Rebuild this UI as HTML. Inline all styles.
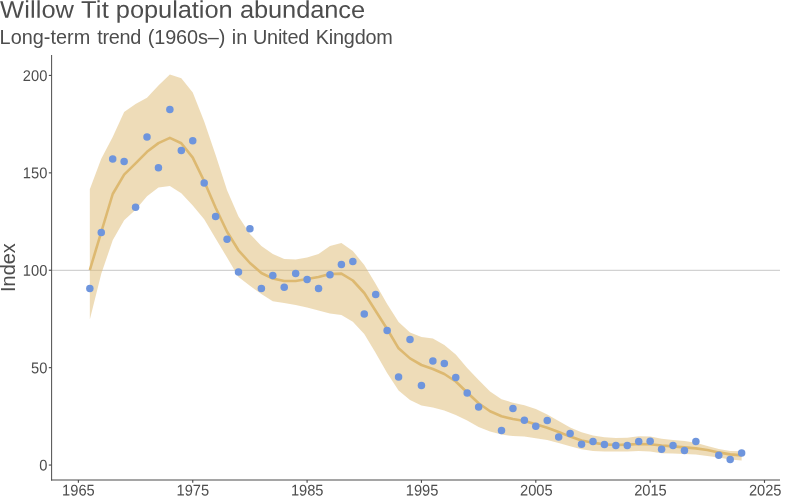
<!DOCTYPE html>
<html lang="en"><head><meta charset="utf-8"><title>Willow Tit population abundance</title>
<style>
html,body{margin:0;padding:0;background:#fff;}
body{width:800px;height:500px;overflow:hidden;}
svg{display:block;font-family:"Liberation Sans",sans-serif;}
</style></head><body>
<svg width="800" height="500" viewBox="0 0 800 500">
<rect width="800" height="500" fill="#fff"/>
<line x1="51.62" y1="270.3" x2="780" y2="270.3" stroke="#a0a0a0" stroke-width="0.6"/>
<polygon points="89.84,189.30 101.27,158.70 112.71,137.00 124.14,111.90 135.58,104.00 147.01,97.75 158.44,85.60 169.88,74.40 181.31,78.20 192.75,92.50 204.19,121.60 215.62,155.00 227.06,190.30 238.49,216.50 249.93,234.00 261.36,246.00 272.80,254.00 284.23,259.00 295.67,259.60 307.10,257.50 318.54,254.00 329.97,246.00 341.40,243.00 352.84,251.00 364.27,265.00 375.71,284.00 387.14,304.00 398.58,322.00 410.01,332.50 421.45,337.00 432.88,338.40 444.32,345.00 455.75,354.40 467.19,368.00 478.62,380.00 490.06,391.40 501.50,399.20 512.93,402.70 524.37,405.20 535.80,409.00 547.24,414.40 558.67,421.00 570.11,427.60 581.54,432.20 592.98,435.40 604.41,437.20 615.85,437.90 627.28,437.70 638.72,436.30 650.15,436.50 661.59,438.80 673.02,440.00 684.46,441.10 695.89,442.80 707.33,446.00 718.76,449.00 730.20,451.00 741.63,451.20 741.63,460.40 730.20,459.40 718.76,457.50 707.33,456.00 695.89,454.40 684.46,454.00 673.02,453.60 661.59,453.30 650.15,451.40 638.72,451.00 627.28,451.40 615.85,451.60 604.41,451.60 592.98,451.00 581.54,449.30 570.11,446.30 558.67,443.00 547.24,440.00 535.80,438.30 524.37,436.60 512.93,436.00 501.50,434.60 490.06,431.60 478.62,427.00 467.19,420.60 455.75,415.00 444.32,410.60 432.88,407.40 421.45,405.60 410.01,400.00 398.58,390.40 387.14,373.00 375.71,353.00 364.27,334.00 352.84,321.80 341.40,315.00 329.97,313.40 318.54,310.60 307.10,307.60 295.67,305.00 284.23,303.00 272.80,301.30 261.36,294.00 249.93,285.80 238.49,277.00 227.06,257.50 215.62,238.50 204.19,219.20 192.75,205.50 181.31,193.20 169.88,186.00 158.44,187.50 147.01,196.25 135.58,209.70 124.14,220.20 112.71,240.30 101.27,273.80 89.84,319.40" fill="#DDB971" fill-opacity="0.5"/>
<polyline points="89.84,270.00 101.27,232.00 112.71,194.00 124.14,174.70 135.58,163.40 147.01,151.80 158.44,143.10 169.88,137.90 181.31,143.20 192.75,157.60 204.19,181.30 215.62,207.80 227.06,231.80 238.49,250.30 249.93,263.00 261.36,273.00 272.80,278.60 284.23,281.00 295.67,281.00 307.10,279.00 318.54,277.00 329.97,274.00 341.40,273.60 352.84,280.50 364.27,293.00 375.71,311.00 387.14,329.00 398.58,348.30 410.01,358.40 421.45,365.00 432.88,369.00 444.32,374.00 455.75,381.50 467.19,392.50 478.62,403.20 490.06,411.30 501.50,416.30 512.93,419.00 524.37,421.00 535.80,424.20 547.24,427.70 558.67,432.00 570.11,436.60 581.54,440.50 592.98,442.70 604.41,444.40 615.85,445.00 627.28,444.60 638.72,444.00 650.15,444.20 661.59,445.50 673.02,446.40 684.46,447.40 695.89,448.40 707.33,450.00 718.76,452.40 730.20,454.40 741.63,455.40" fill="none" stroke="#DDB971" stroke-width="2.6" stroke-linejoin="round" stroke-linecap="butt"/>
<g fill="#6E95DD"><circle cx="89.84" cy="288.40" r="3.75"/><circle cx="101.27" cy="232.50" r="3.75"/><circle cx="112.71" cy="159.00" r="3.75"/><circle cx="124.14" cy="161.40" r="3.75"/><circle cx="135.58" cy="207.30" r="3.75"/><circle cx="147.01" cy="137.00" r="3.75"/><circle cx="158.44" cy="167.80" r="3.75"/><circle cx="169.88" cy="109.40" r="3.75"/><circle cx="181.31" cy="150.40" r="3.75"/><circle cx="192.75" cy="140.70" r="3.75"/><circle cx="204.19" cy="183.00" r="3.75"/><circle cx="215.62" cy="216.50" r="3.75"/><circle cx="227.06" cy="239.20" r="3.75"/><circle cx="238.49" cy="272.00" r="3.75"/><circle cx="249.93" cy="228.80" r="3.75"/><circle cx="261.36" cy="288.40" r="3.75"/><circle cx="272.80" cy="275.40" r="3.75"/><circle cx="284.23" cy="287.20" r="3.75"/><circle cx="295.67" cy="273.40" r="3.75"/><circle cx="307.10" cy="279.60" r="3.75"/><circle cx="318.54" cy="288.40" r="3.75"/><circle cx="329.97" cy="274.80" r="3.75"/><circle cx="341.40" cy="264.40" r="3.75"/><circle cx="352.84" cy="261.60" r="3.75"/><circle cx="364.27" cy="314.00" r="3.75"/><circle cx="375.71" cy="294.40" r="3.75"/><circle cx="387.14" cy="330.50" r="3.75"/><circle cx="398.58" cy="377.00" r="3.75"/><circle cx="410.01" cy="339.60" r="3.75"/><circle cx="421.45" cy="385.40" r="3.75"/><circle cx="432.88" cy="361.00" r="3.75"/><circle cx="444.32" cy="363.60" r="3.75"/><circle cx="455.75" cy="377.50" r="3.75"/><circle cx="467.19" cy="393.00" r="3.75"/><circle cx="478.62" cy="407.00" r="3.75"/><circle cx="501.50" cy="430.40" r="3.75"/><circle cx="512.93" cy="408.40" r="3.75"/><circle cx="524.37" cy="420.20" r="3.75"/><circle cx="535.80" cy="426.20" r="3.75"/><circle cx="547.24" cy="420.60" r="3.75"/><circle cx="558.67" cy="437.00" r="3.75"/><circle cx="570.11" cy="433.60" r="3.75"/><circle cx="581.54" cy="444.20" r="3.75"/><circle cx="592.98" cy="441.40" r="3.75"/><circle cx="604.41" cy="444.40" r="3.75"/><circle cx="615.85" cy="445.40" r="3.75"/><circle cx="627.28" cy="445.40" r="3.75"/><circle cx="638.72" cy="441.40" r="3.75"/><circle cx="650.15" cy="441.20" r="3.75"/><circle cx="661.59" cy="449.20" r="3.75"/><circle cx="673.02" cy="445.50" r="3.75"/><circle cx="684.46" cy="450.40" r="3.75"/><circle cx="695.89" cy="441.40" r="3.75"/><circle cx="718.76" cy="455.20" r="3.75"/><circle cx="730.20" cy="459.40" r="3.75"/><circle cx="741.63" cy="453.00" r="3.75"/></g>
<g stroke="#4d4d4d" stroke-width="1.1" fill="none">
<line x1="51.62" y1="55" x2="51.62" y2="480.6" stroke-width="1.0"/>
<line x1="51.12" y1="480.05" x2="780" y2="480.05"/>
</g>
<g stroke="#4d4d4d" stroke-width="1.15"><line x1="78.40" y1="480.05" x2="78.40" y2="482.85"/><line x1="192.75" y1="480.05" x2="192.75" y2="482.85"/><line x1="307.10" y1="480.05" x2="307.10" y2="482.85"/><line x1="421.45" y1="480.05" x2="421.45" y2="482.85"/><line x1="535.80" y1="480.05" x2="535.80" y2="482.85"/><line x1="650.15" y1="480.05" x2="650.15" y2="482.85"/><line x1="764.50" y1="480.05" x2="764.50" y2="482.85"/><line x1="48.82" y1="465.05" x2="51.62" y2="465.05"/><line x1="48.82" y1="367.65" x2="51.62" y2="367.65"/><line x1="48.82" y1="270.25" x2="51.62" y2="270.25"/><line x1="48.82" y1="172.85" x2="51.62" y2="172.85"/><line x1="48.82" y1="75.45" x2="51.62" y2="75.45"/></g>
<g fill="#4d4d4d" font-size="14.67"><text transform="translate(78.40,495.6) rotate(0.03) scale(1,1.06)" text-anchor="middle">1965</text><text transform="translate(192.85,495.6) rotate(0.03) scale(1,1.06)" text-anchor="middle">1975</text><text transform="translate(307.20,495.6) rotate(0.03) scale(1,1.06)" text-anchor="middle">1985</text><text transform="translate(422.05,495.6) rotate(0.03) scale(1,1.06)" text-anchor="middle">1995</text><text transform="translate(536.30,495.6) rotate(0.03) scale(1,1.06)" text-anchor="middle">2005</text><text transform="translate(650.45,495.6) rotate(0.03) scale(1,1.06)" text-anchor="middle">2015</text><text transform="translate(765.20,495.6) rotate(0.03) scale(1,1.06)" text-anchor="middle">2025</text><text transform="translate(47.3,470.55) rotate(0.03) scale(1,1.06)" text-anchor="end">0</text><text transform="translate(47.3,373.15) rotate(0.03) scale(1,1.06)" text-anchor="end">50</text><text transform="translate(47.3,275.75) rotate(0.03) scale(1,1.06)" text-anchor="end">100</text><text transform="translate(47.3,178.35) rotate(0.03) scale(1,1.06)" text-anchor="end">150</text><text transform="translate(47.3,80.95) rotate(0.03) scale(1,1.06)" text-anchor="end">200</text></g>
<text transform="translate(15.2,267.6) rotate(-90)" text-anchor="middle" font-size="19.9" fill="#4d4d4d">Index</text>
<text transform="translate(182,17.8) rotate(0.03) scale(1,0.95) translate(-182,0)" y="0" font-size="25.43" fill="#4d4d4d"><tspan x="0.1" textLength="73.9" lengthAdjust="spacing">Willow</tspan> <tspan x="80.93" textLength="27.8" lengthAdjust="spacing">Tit</tspan> <tspan x="115.86" textLength="116.8" lengthAdjust="spacing">population</tspan> <tspan x="239.92" textLength="125.2" lengthAdjust="spacing">abundance</tspan></text>
<text y="44" font-size="19.87" fill="#4d4d4d"><tspan x="-0.43" textLength="90.7" lengthAdjust="spacing">Long-term</tspan> <tspan x="97.2" textLength="44.1" lengthAdjust="spacing">trend</tspan> <tspan x="147.77" textLength="77.5" lengthAdjust="spacing">(1960s–)</tspan> <tspan x="231.67" textLength="15.6" lengthAdjust="spacing">in</tspan> <tspan x="252.97" textLength="56.3" lengthAdjust="spacing">United</tspan> <tspan x="315.87" textLength="76.9" lengthAdjust="spacing">Kingdom</tspan></text>
</svg>
</body></html>
